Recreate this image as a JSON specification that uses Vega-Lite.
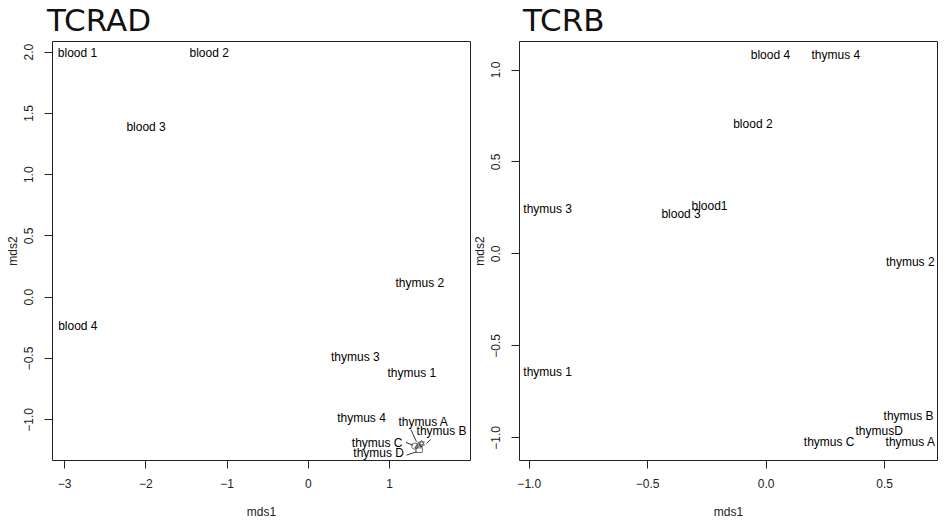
{
  "$schema": "https://vega.github.io/schema/vega-lite/v6.json",
  "padding": {"left": 5, "top": 5, "right": 0, "bottom": 0},
  "background": "white",
  "spacing": 1,
  "datasets": {
    "tcrad": [
      {"label": "blood 1", "mds1": -2.834, "mds2": 1.99},
      {"label": "blood 2", "mds1": -1.214, "mds2": 1.99},
      {"label": "blood 3", "mds1": -1.99, "mds2": 1.385},
      {"label": "blood 4", "mds1": -2.83, "mds2": -0.239},
      {"label": "thymus 2", "mds1": 1.379, "mds2": 0.112},
      {"label": "thymus 3", "mds1": 0.585, "mds2": -0.492},
      {"label": "thymus 1", "mds1": 1.28, "mds2": -0.62},
      {"label": "thymus 4", "mds1": 0.661, "mds2": -0.993},
      {"label": "thymus A", "mds1": 1.42, "mds2": -1.02},
      {"label": "thymus B", "mds1": 1.646, "mds2": -1.094},
      {"label": "thymus C", "mds1": 0.854, "mds2": -1.192},
      {"label": "thymus D", "mds1": 0.872, "mds2": -1.273}
    ],
    "tcrad_pts": [
      {"label": "thymus C", "mds1": 1.317, "mds2": -1.219, "ax": 1.207, "ay": -1.189, "bx": 1.293, "by": -1.211},
      {"label": "thymus A", "mds1": 1.358, "mds2": -1.211, "ax": 1.268, "ay": -1.082, "bx": 1.338, "by": -1.184},
      {"label": "thymus B", "mds1": 1.40, "mds2": -1.197, "ax": 1.514, "ay": -1.164, "bx": 1.461, "by": -1.197},
      {"label": "thymus D", "mds1": 1.37, "mds2": -1.245, "ax": 1.215, "ay": -1.292, "bx": 1.338, "by": -1.265}
    ],
    "tcrb": [
      {"label": "blood 4", "mds1": 0.02, "mds2": 1.079},
      {"label": "thymus 4", "mds1": 0.296, "mds2": 1.079},
      {"label": "blood 2", "mds1": -0.054, "mds2": 0.704},
      {"label": "thymus 3", "mds1": -0.92, "mds2": 0.242},
      {"label": "blood1", "mds1": -0.237, "mds2": 0.258},
      {"label": "blood 3", "mds1": -0.357, "mds2": 0.213},
      {"label": "thymus 2", "mds1": 0.61, "mds2": -0.046},
      {"label": "thymus 1", "mds1": -0.92, "mds2": -0.644},
      {"label": "thymus B", "mds1": 0.603, "mds2": -0.883},
      {"label": "thymusD", "mds1": 0.479, "mds2": -0.968},
      {"label": "thymus C", "mds1": 0.268, "mds2": -1.023},
      {"label": "thymus A", "mds1": 0.61, "mds2": -1.023}
    ]
  },
  "hconcat": [
    {
      "width": 418,
      "height": 419,
      "title": {"text": "TCRAD", "dx": -5},
      "layer": [
        {
          "data": {"name": "tcrad_pts"},
          "mark": {"type": "rule", "color": "black", "strokeWidth": 0.8},
          "encoding": {
            "x": {"field": "ax", "type": "quantitative"},
            "y": {"field": "ay", "type": "quantitative"},
            "x2": {"field": "bx"},
            "y2": {"field": "by"}
          }
        },
        {
          "data": {"name": "tcrad_pts"},
          "mark": {"type": "point", "filled": false, "color": "black", "strokeWidth": 0.8, "size": 40},
          "encoding": {
            "x": {"field": "mds1", "type": "quantitative"},
            "y": {"field": "mds2", "type": "quantitative"},
            "shape": {
              "field": "label",
              "type": "nominal",
              "legend": null,
              "scale": {
                "domain": ["thymus A", "thymus B", "thymus C", "thymus D"],
                "range": ["triangle-up", "M0,-1L0.866,0.5L-0.866,0.5Z M0,1L0.866,-0.5L-0.866,-0.5Z", "circle", "square"]
              }
            }
          }
        },
        {
          "data": {"name": "tcrad"},
          "mark": {"type": "text", "font": "Liberation Sans", "fontSize": 12, "color": "black", "align": "center", "baseline": "middle"},
          "encoding": {
            "x": {
              "field": "mds1", "type": "quantitative", "title": "mds1",
              "scale": {"domain": [-3.148, 1.996], "nice": false, "zero": false},
              "axis": {"values": [-3, -2, -1, 0, 1], "format": "d"}
            },
            "y": {
              "field": "mds2", "type": "quantitative", "title": "mds2",
              "scale": {"domain": [-1.332, 2.087], "nice": false, "zero": false},
              "axis": {"values": [-1, -0.5, 0, 0.5, 1, 1.5, 2], "format": ".1f"}
            },
            "text": {"field": "label"}
          }
        }
      ]
    },
    {
      "width": 418,
      "height": 419,
      "title": {"text": "TCRB", "dx": 4},
      "data": {"name": "tcrb"},
      "mark": {"type": "text", "font": "Liberation Sans", "fontSize": 12, "color": "black", "align": "center", "baseline": "middle"},
      "encoding": {
        "x": {
          "field": "mds1", "type": "quantitative", "title": "mds1",
          "scale": {"domain": [-1.041, 0.723], "nice": false, "zero": false},
          "axis": {"values": [-1, -0.5, 0, 0.5], "format": ".1f"}
        },
        "y": {
          "field": "mds2", "type": "quantitative", "title": "mds2",
          "scale": {"domain": [-1.123, 1.155], "nice": false, "zero": false},
          "axis": {"values": [-1, -0.5, 0, 0.5, 1], "format": ".1f"}
        },
        "text": {"field": "label"}
      }
    }
  ],
  "config": {
    "view": {"stroke": "#222", "strokeWidth": 1},
    "title": {"font": "DejaVu Sans", "fontSize": 31, "fontWeight": "normal", "color": "#111", "anchor": "start", "frame": "group", "baseline": "alphabetic", "offset": 3},
    "axis": {
      "domain": false, "grid": false, "tickColor": "#222", "tickSize": 8,
      "labelFont": "Liberation Sans", "labelFontSize": 12, "labelColor": "#222",
      "titleFont": "Liberation Sans", "titleFontSize": 12, "titleFontWeight": "normal", "titleColor": "#222"
    },
    "axisX": {"labelPadding": 10, "titlePadding": 17, "labelFlush": false},
    "axisY": {"labelAngle": 270, "labelPadding": 9, "titlePadding": 3, "labelFlush": false}
  }
}
